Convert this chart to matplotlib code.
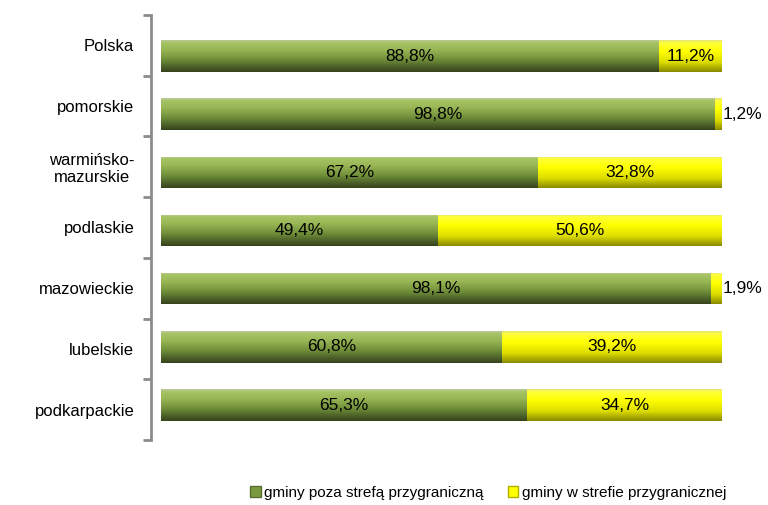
import numpy as np
import matplotlib
matplotlib.use("Agg")
import matplotlib.pyplot as plt
from matplotlib.colors import LinearSegmentedColormap
from matplotlib.patches import Rectangle, Patch

plt.rcParams['font.family'] = ['Liberation Sans', 'DejaVu Sans']

categories = ["Polska", "pomorskie", "warmińsko-\nmazurskie", "podlaskie",
              "mazowieckie", "lubelskie", "podkarpackie"]
outside = [88.8, 98.8, 67.2, 49.4, 98.1, 60.8, 65.3]
inside = [11.2, 1.2, 32.8, 50.6, 1.9, 39.2, 34.7]
series_names = ["gminy poza strefą przygraniczną", "gminy w strefie przygranicznej"]

W, H = 768, 505
fig = plt.figure(figsize=(W / 100, H / 100), dpi=100)
ax = fig.add_axes([151 / W, (H - 440) / H, 571 / W, 425 / H])

green_cmap = LinearSegmentedColormap.from_list("g", [
    (0.0, "#bcc99a"), (0.08, "#a6c464"), (0.3, "#98b654"),
    (0.6, "#71903a"), (0.85, "#4b5f28"), (1.0, "#36431c")])
yellow_cmap = LinearSegmentedColormap.from_list("y", [
    (0.0, "#e6e676"), (0.08, "#ffff3a"), (0.35, "#ffff00"),
    (0.7, "#dcdc00"), (1.0, "#8a8a00")])
grad = np.linspace(0, 1, 64).reshape(-1, 1)

n = len(categories)
pos = np.arange(n)
ypos = 3 + (pos - 3) * 0.958 + 0.05
bh = 0.52
fs = 12.5

def grad_bar(x0, width, yc, cmap):
    rect = Rectangle((x0, yc - bh / 2), width, bh, facecolor="none", edgecolor="none")
    ax.add_patch(rect)
    im = ax.imshow(grad, cmap=cmap, aspect="auto",
                   extent=(x0, x0 + width, yc + bh / 2, yc - bh / 2),
                   interpolation="bilinear", zorder=2)
    im.set_clip_path(rect)

for i in range(n):
    grad_bar(0, outside[i], ypos[i], green_cmap)
    grad_bar(outside[i], inside[i], ypos[i], yellow_cmap)
    ax.text(outside[i] / 2, ypos[i], f"{outside[i]:.1f}%".replace(".", ","),
            ha="center", va="center", fontsize=fs, zorder=5)
    lbl = f"{inside[i]:.1f}%".replace(".", ",")
    if inside[i] < 5:
        ax.text(100.1, ypos[i], lbl, ha="left", va="center", fontsize=fs,
                zorder=5, clip_on=False)
    else:
        ax.text(outside[i] + inside[i] / 2, ypos[i], lbl, ha="center",
                va="center", fontsize=fs, zorder=5)

ax.set_xlim(-1.8, 100)
ax.set_ylim(n - 0.5, -0.5)

for s in ["top", "right", "bottom"]:
    ax.spines[s].set_visible(False)
ax.spines["left"].set_color("#8c8c8c")
ax.spines["left"].set_linewidth(2)
ax.set_xticks([])
ax.set_yticks(pos)
ax.set_yticklabels(categories, fontsize=12, linespacing=1.15)
for t in ax.get_yticklabels():
    t.set_multialignment("center")
ax.tick_params(axis="y", length=0, pad=12)
ax.set_yticks(np.arange(n + 1) - 0.5, minor=True)
ax.tick_params(axis="y", which="minor", length=6, width=2, color="#8c8c8c", direction="out")

handles = [Patch(facecolor="#7a9a40", edgecolor="#5a7030"),
           Patch(facecolor="#ffff00", edgecolor="#b0b000")]
fig.legend(handles, series_names, loc="center", bbox_to_anchor=(488 / W, 1 - 493 / H),
           ncol=2, frameon=False, fontsize=11, handlelength=0.7, handleheight=0.7,
           handletextpad=0.2, columnspacing=1.6)

fig.savefig("out.png", dpi=100)
